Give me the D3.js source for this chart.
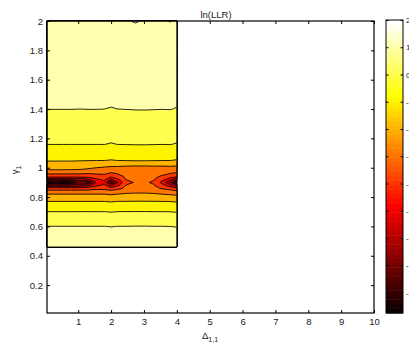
<!DOCTYPE html>
<html>
<head>
<meta charset="utf-8">
<script src="https://cdn.jsdelivr.net/npm/d3@7"></script>
<style>
  body { margin: 0; background: #fff; }
  svg { display: block; font-family: "Liberation Sans", Arial, sans-serif; }
</style>
</head>
<body>
<svg id="chart" width="409" height="352"></svg>
<script>
// grid columns (Delta_1,1) and rows (gamma_1, top to bottom)
const deltaValues = [0.05, 0.3, 0.55, 0.8, 1.05, 1.3, 1.55, 1.8, 2.0, 2.2, 2.45, 2.75, 3.05, 3.3, 3.55, 3.8, 4.0];
const gammaValues = [2.0, 1.8, 1.6, 1.4, 1.3, 1.16, 1.1, 1.05, 1.0, 0.97, 0.94, 0.92, 0.90, 0.88, 0.86, 0.83, 0.77, 0.70, 0.60, 0.53, 0.46];

// ln(LLR), one row per gamma value
const llrGrid = [
  [1.92, 1.92, 1.93, 1.92, 1.93, 1.92, 1.93, 1.94, 1.93, 1.95, 1.98, 2.02, 1.97, 1.95, 1.96, 2.01, 1.96],
  [1.72, 1.72, 1.72, 1.72, 1.72, 1.72, 1.72, 1.73, 1.71, 1.72, 1.72, 1.73, 1.72, 1.72, 1.72, 1.73, 1.72],
  [1.45, 1.45, 1.45, 1.45, 1.45, 1.45, 1.45, 1.46, 1.44, 1.45, 1.45, 1.46, 1.46, 1.45, 1.45, 1.46, 1.44],
  [1.01, 1.01, 1.01, 1.01, 1.00, 1.01, 1.01, 1.00, 0.97, 1.00, 1.01, 1.03, 1.03, 1.02, 1.01, 1.02, 0.97],
  [0.55, 0.55, 0.55, 0.55, 0.55, 0.55, 0.55, 0.55, 0.53, 0.55, 0.56, 0.57, 0.57, 0.56, 0.55, 0.55, 0.52],
  [0.01, 0.01, 0.01, 0.01, 0.01, 0.01, 0.01, 0.01, -0.04, 0.01, 0.02, 0.03, 0.03, 0.02, 0.01, 0.02, -0.04],
  [-0.50, -0.50, -0.50, -0.50, -0.50, -0.50, -0.50, -0.51, -0.55, -0.51, -0.50, -0.48, -0.48, -0.49, -0.50, -0.50, -0.56],
  [-0.95, -0.95, -0.95, -0.95, -0.96, -0.97, -0.98, -0.99, -1.04, -0.99, -0.96, -0.93, -0.93, -0.95, -0.97, -0.99, -1.05],
  [-1.50, -1.50, -1.50, -1.52, -1.60, -1.80, -2.00, -2.10, -2.20, -2.20, -2.30, -2.35, -2.35, -2.30, -2.30, -2.25, -2.30],
  [-2.60, -2.60, -2.60, -2.60, -2.60, -2.70, -2.70, -2.70, -2.90, -2.75, -2.65, -2.60, -2.60, -2.65, -2.70, -2.80, -2.90],
  [-3.60, -3.60, -3.60, -3.60, -3.60, -3.60, -3.40, -3.30, -3.80, -3.40, -2.85, -2.75, -2.75, -2.85, -3.10, -3.50, -3.90],
  [-5.80, -5.80, -5.80, -5.80, -5.60, -5.20, -4.20, -3.80, -5.20, -4.20, -2.98, -2.85, -2.85, -2.95, -3.60, -4.60, -5.50],
  [-8.75, -7.60, -8.50, -7.70, -6.60, -7.10, -4.90, -4.20, -7.10, -5.00, -3.30, -2.90, -2.92, -3.10, -4.30, -5.90, -7.60],
  [-5.80, -5.80, -5.80, -5.80, -5.60, -5.20, -4.20, -3.80, -5.20, -4.20, -2.98, -2.85, -2.85, -2.95, -3.60, -4.60, -5.50],
  [-3.60, -3.60, -3.60, -3.60, -3.60, -3.50, -3.30, -3.30, -3.60, -3.30, -2.80, -2.70, -2.70, -2.75, -3.10, -3.40, -3.70],
  [-2.20, -2.20, -2.20, -2.20, -2.20, -2.20, -2.20, -2.20, -2.30, -2.20, -2.10, -2.05, -2.05, -2.10, -2.20, -2.30, -2.40],
  [-0.99, -0.99, -0.99, -0.99, -0.99, -0.99, -0.99, -0.99, -1.05, -0.99, -0.98, -0.97, -0.97, -0.98, -0.99, -1.01, -1.06],
  [0.01, 0.01, 0.01, 0.01, 0.01, 0.01, 0.01, 0.01, -0.03, 0.01, 0.02, 0.02, 0.02, 0.01, 0.01, 0.00, -0.04],
  [1.01, 1.01, 1.01, 1.01, 1.01, 1.01, 1.01, 1.01, 0.98, 1.01, 1.01, 1.02, 1.02, 1.01, 1.01, 1.00, 0.97],
  [1.40, 1.40, 1.40, 1.40, 1.40, 1.40, 1.40, 1.40, 1.39, 1.40, 1.40, 1.41, 1.41, 1.40, 1.40, 1.40, 1.38],
  [1.70, 1.70, 1.70, 1.70, 1.70, 1.70, 1.70, 1.70, 1.69, 1.70, 1.70, 1.71, 1.71, 1.70, 1.70, 1.70, 1.69]
];

const contourLevels = [-8, -7, -6, -5, -4, -3, -2, -1, 0, 1, 2];
const colorTicks = [2, 1, 0, -1, -2, -3, -4, -5, -6, -7, -8];
const xTicks = [1, 2, 3, 4, 5, 6, 7, 8, 9, 10];
const yTicks = [0.2, 0.4, 0.6, 0.8, 1, 1.2, 1.4, 1.6, 1.8, 2];
const colorMin = -8.75, colorMax = 2;

const plot = { left: 47, right: 374, top: 21, bottom: 313 };
const svg = d3.select('#chart');

const x = d3.scaleLinear().domain([0.05, 10]).range([plot.left, plot.right]);
const y = d3.scaleLinear().domain([0.01, 2]).range([plot.bottom, plot.top]);

// matlab "hot", 64 entries
const hot = d3.range(1, 65).map(k => d3.rgb(
  255 * Math.min(k / 24, 1),
  255 * Math.min(Math.max((k - 24) / 24, 0), 1),
  255 * Math.min(Math.max((k - 48) / 16, 0), 1)).formatHex());
const color = d3.scaleQuantize().domain([colorMin, colorMax]).range(hot);

// contour grid coords -> data coords (values sit at cell centres)
const nx = deltaValues.length, ny = gammaValues.length;
const colScale = d3.scaleLinear()
  .domain([0].concat(deltaValues.map((d, i) => i + 0.5), [nx]))
  .range([deltaValues[0]].concat(deltaValues, [deltaValues[nx - 1]]));
const rowScale = d3.scaleLinear()
  .domain([0].concat(gammaValues.map((d, i) => i + 0.5), [ny]))
  .range([gammaValues[0]].concat(gammaValues, [gammaValues[ny - 1]]));

const path = d3.geoPath(d3.geoTransform({
  point: function(px, py) { this.stream.point(x(colScale(px)), y(rowScale(py))); }
}));

const contours = d3.contours()
  .size([nx, ny])
  .thresholds([colorMin].concat(contourLevels))(llrGrid.flat());

svg.append('g')
  .selectAll('path')
  .data(contours)
  .join('path')
  .attr('d', path)
  .attr('fill', d => color(d.value))
  .attr('stroke', '#000')
  .attr('stroke-width', 0.85)
  .attr('stroke-linejoin', 'round');

// axes, matlab style: box with inward ticks on all sides
function styleAxis(g) {
  g.select('.domain').remove();
  g.selectAll('line').attr('stroke', '#000');
  g.selectAll('text').attr('fill', '#1a1a1a').style('font-size', '9.5px')
    .style('font-family', '"Liberation Sans", Arial, sans-serif');
}
svg.append('g').attr('transform', `translate(0,${plot.bottom})`)
  .call(d3.axisBottom(x).tickValues(xTicks).tickSize(-3).tickPadding(5))
  .call(styleAxis);
svg.append('g').attr('transform', `translate(0,${plot.top})`)
  .call(d3.axisTop(x).tickValues(xTicks).tickSize(-3).tickFormat(''))
  .call(styleAxis);
svg.append('g').attr('transform', `translate(${plot.left},0)`)
  .call(d3.axisLeft(y).tickValues(yTicks).tickSize(-3).tickPadding(4).tickFormat(d3.format('~g')))
  .call(styleAxis);
svg.append('g').attr('transform', `translate(${plot.right},0)`)
  .call(d3.axisRight(y).tickValues(yTicks).tickSize(-3).tickFormat(''))
  .call(styleAxis);

svg.append('rect')
  .attr('x', plot.left).attr('y', plot.top)
  .attr('width', plot.right - plot.left).attr('height', plot.bottom - plot.top)
  .attr('fill', 'none').attr('stroke', '#000').attr('stroke-width', 1.2);

// labels
svg.append('text')
  .attr('x', 216).attr('y', 18)
  .attr('text-anchor', 'middle')
  .style('font-size', '9.5px').attr('fill', '#1a1a1a')
  .text('ln(LLR)');

const xl = svg.append('text')
  .attr('x', 210).attr('y', 339)
  .attr('text-anchor', 'middle')
  .style('font-size', '9.5px').attr('fill', '#1a1a1a');
xl.append('tspan').text('\u0394');
xl.append('tspan').attr('dy', 3).style('font-size', '7px').text('1,1');

const yl = svg.append('text')
  .attr('transform', 'translate(18,170) rotate(-90)')
  .attr('text-anchor', 'middle')
  .style('font-size', '9.5px').attr('fill', '#1a1a1a');
yl.append('tspan').text('\u03b3');
yl.append('tspan').attr('dy', 3).style('font-size', '7px').text('1');

// colorbar
const cb = { left: 386, right: 403, top: 20, bottom: 313 };
const cy = d3.scaleLinear().domain([colorMin, colorMax]).range([cb.bottom, cb.top]);
const step = (colorMax - colorMin) / hot.length;
svg.append('g')
  .selectAll('rect')
  .data(hot)
  .join('rect')
  .attr('x', cb.left)
  .attr('width', cb.right - cb.left)
  .attr('y', (c, i) => cy(colorMin + (i + 1) * step))
  .attr('height', (c, i) => cy(colorMin + i * step) - cy(colorMin + (i + 1) * step) + 0.5)
  .attr('fill', c => c);

svg.append('g').attr('transform', `translate(${cb.right},0)`)
  .call(d3.axisRight(cy).tickValues(colorTicks).tickSize(-2.5).tickPadding(3).tickFormat(d => String(d)))
  .call(styleAxis)
  .call(g => g.selectAll('text').style('font-size', '8px'));
svg.append('g').attr('transform', `translate(${cb.left},0)`)
  .call(d3.axisLeft(cy).tickValues(colorTicks).tickSize(-2.5).tickFormat(''))
  .call(styleAxis);

svg.append('rect')
  .attr('x', cb.left).attr('y', cb.top)
  .attr('width', cb.right - cb.left).attr('height', cb.bottom - cb.top)
  .attr('fill', 'none').attr('stroke', '#000').attr('stroke-width', 1);
</script>
</body>
</html>
